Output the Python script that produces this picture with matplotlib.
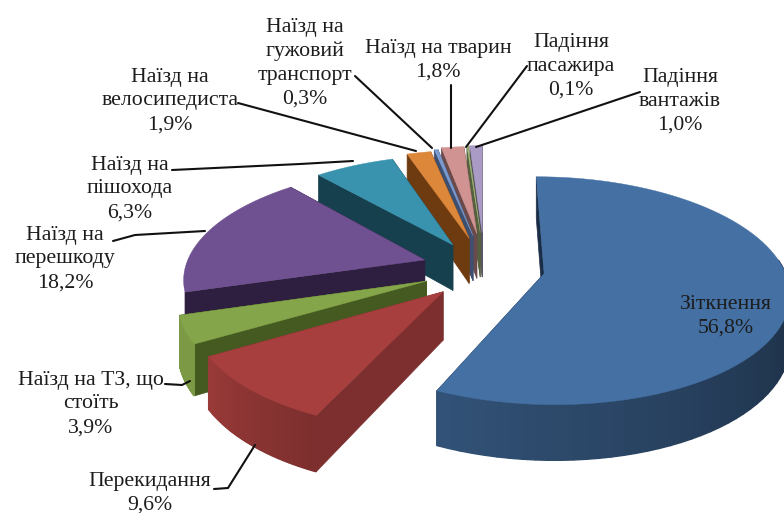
import numpy as np
import matplotlib
matplotlib.use("Agg")
import matplotlib.pyplot as plt
from matplotlib.patches import Polygon

# share of each accident type, clockwise from the top
names = ["Зіткнення", "Перекидання", "Наїзд на ТЗ, що\nстоїть", "Наїзд на\nперешкоду", "Наїзд на\nпішохода",
         "Наїзд на\nвелосипедиста", "Наїзд на\nгужовий\nтранспорт", "Наїзд на тварин", "Падіння\nпасажира",
         "Падіння\nвантажів"]
values = [56.8, 9.6, 3.9, 18.2, 6.3, 1.9, 0.3, 1.8, 0.1, 1.0]
value_labels = ["56,8%", "9,6%", "3,9%", "18,2%", "6,3%", "1,9%", "0,3%", "1,8%", "0,1%", "1,0%"]
colors = ["#4470a3", "#a63f3d", "#85a54a", "#6f5090", "#3a93ae", "#dc873a", "#7a9ad0", "#d19391", "#a4b97c", "#a99bc5"]
dark = ["#1b2e48", "#7c2f2e", "#455a20", "#2e1f40", "#17404f", "#6e3a10", "#3f4f70", "#6a4a4a", "#55603f", "#5a5560"]

# label centre and leader line for each slice, in pixels
label_pos = [(726, 316), (150, 493), (91, 404), (65, 259), (130, 189), (170, 101), (305, 63), (438, 60), (571, 66), (680, 101)]
leaders = [None,
           [(214, 489), (228, 488), (255, 445)],
           [(165, 384), (182, 385), (190, 381)],
           [(113, 241), (135, 235), (205, 231)],
           [(172, 170), (300, 164), (353, 161)],
           [(238, 103), (416, 151)],
           [(355, 76), (432, 148)],
           [(451, 85), (451, 148)],
           [(527, 66), (466, 147)],
           [(640, 92), (476, 147)]]

# fake 3d view of the pie
cx, cy = 484, 269
rx, ry = 240, 110
persp = 0.15
depth = 47
explode_x = [0.255, 0.247, 0.257, 0.26, 0.27, 0.25, 0.25, 0.25, 0.25, 0.25]
explode_y = [0.19, 0.27, 0.27, 0.30, 0.26, 0.30, 0.32, 0.34, 0.35, 0.35]


def project(x, y, z=0):
    s = 1 / (1 + persp * y)
    return np.column_stack([cx + rx * x * s, cy - ry * y * s + z * depth * s])


def shade(col, f):
    return np.array(matplotlib.colors.to_rgb(col)) * f


fig = plt.figure(figsize=(7.84, 5.13), dpi=100)
ax = fig.add_axes([0, 0, 1, 1])
ax.set_xlim(0, 784)
ax.set_ylim(513, 0)
ax.axis("off")

edges = np.cumsum([0] + values) / sum(values) * 360
# back slices first
draw_order = [9, 8, 7, 6, 5, 4, 3, 2, 1, 0]
for i in draw_order:
    t = np.radians(np.linspace(edges[i], edges[i + 1], 80))
    mid = np.radians((edges[i] + edges[i + 1]) / 2)
    ox, oy = explode_x[i] * np.sin(mid), explode_y[i] * np.cos(mid)
    arc_x, arc_y = ox + np.sin(t), oy + np.cos(t)
    # cut faces
    for k in [0, -1]:
        fx = np.array([ox, arc_x[k]])
        fy = np.array([oy, arc_y[k]])
        top = project(fx, fy)
        bot = project(fx, fy, 1)
        ax.add_patch(Polygon(np.vstack([top, bot[::-1]]), fc=dark[i], ec=dark[i], lw=0.5))
    # outer wall in thin strips, lighter towards the left
    top = project(arc_x, arc_y)
    bot = project(arc_x, arc_y, 1)
    f = np.interp(np.degrees(t), [100, 200, 240], [0.42, 0.72, 0.93])
    for j in range(len(t) - 1):
        facing = np.cos(t[j]) < 0.15 if np.sin(t[j]) > 0 else np.cos(t[j]) < -0.3
        if facing:
            c = shade(colors[i], f[j])
            ax.add_patch(Polygon(np.vstack([top[j:j + 2], bot[j:j + 2][::-1]]), fc=c, ec=c, lw=1.0))
    # top surface
    surface = np.vstack([project(np.array([ox]), np.array([oy])), top])
    ax.add_patch(Polygon(surface, fc=colors[i], ec=colors[i], lw=0.3))

for i in range(len(values)):
    ax.text(label_pos[i][0], label_pos[i][1], names[i] + "\n" + value_labels[i], ha="center", va="center",
            family="Liberation Serif", fontsize=15.7, color="#1c1c1c", linespacing=1.33)
    if leaders[i]:
        xs, ys = zip(*leaders[i])
        ax.plot(xs, ys, color="#111111", lw=1.5, solid_capstyle="round")

fig.savefig("out.png", dpi=100)
